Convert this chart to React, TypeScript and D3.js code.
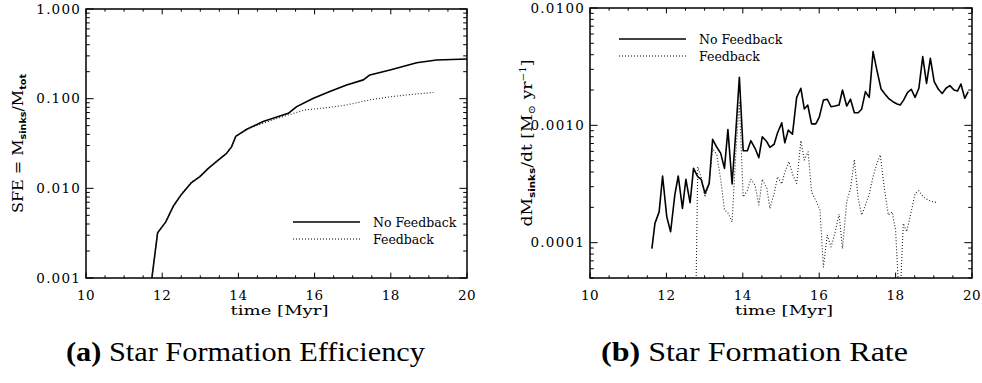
import React from 'react';
import * as d3 from 'd3';

// ---------- Data ----------
const sfeTimeNoFb = [11.70, 11.88, 12.09, 12.29, 12.50, 12.77, 12.99, 13.21, 13.43, 13.69, 13.82, 13.93, 14.22, 14.65, 15.31, 15.53, 15.97, 16.40, 16.84, 17.28, 17.45, 17.98, 18.68, 19.20, 20.00];
const sfeNoFb = [0.0008, 0.0032, 0.0042, 0.0063, 0.0085, 0.0116, 0.0135, 0.0167, 0.020, 0.0246, 0.029, 0.038, 0.0456, 0.0555, 0.0687, 0.0815, 0.101, 0.120, 0.142, 0.162, 0.184, 0.209, 0.251, 0.270, 0.277];
const sfeTimeFb = [11.70, 11.88, 12.09, 12.29, 12.50, 12.77, 12.99, 13.21, 13.43, 13.69, 13.82, 13.93, 14.22, 14.65, 15.31, 15.75, 16.40, 16.84, 17.45, 17.98, 18.68, 19.12];
const sfeFb = [0.0008, 0.0032, 0.0042, 0.0063, 0.0086, 0.0118, 0.0137, 0.0168, 0.020, 0.0246, 0.029, 0.038, 0.0456, 0.0532, 0.066, 0.0748, 0.080, 0.085, 0.097, 0.105, 0.113, 0.117];

const rateTimeNoFb = [11.62, 11.70, 11.81, 11.90, 12.01, 12.11, 12.22, 12.31, 12.42, 12.51, 12.62, 12.71, 12.82, 12.91, 13.01, 13.12, 13.21, 13.32, 13.42, 13.52, 13.61, 13.72, 13.82, 13.91, 14.01, 14.12, 14.21, 14.32, 14.42, 14.51, 14.63, 14.71, 14.82, 14.91, 15.02, 15.10, 15.19, 15.30, 15.41, 15.52, 15.61, 15.70, 15.80, 15.91, 16.00, 16.11, 16.21, 16.31, 16.41, 16.52, 16.61, 16.72, 16.82, 16.92, 17.02, 17.11, 17.21, 17.31, 17.41, 17.51, 17.62, 17.72, 17.83, 17.93, 18.04, 18.12, 18.21, 18.31, 18.41, 18.51, 18.61, 18.71, 18.81, 18.91, 19.01, 19.12, 19.22, 19.32, 19.42, 19.53, 19.62, 19.71, 19.81, 19.90];
const rateNoFb = [8.9e-5, 1.46e-4, 1.83e-4, 3.7e-4, 1.66e-4, 1.24e-4, 2.55e-4, 3.7e-4, 1.96e-4, 3.47e-4, 2.19e-4, 4.3e-4, 3.65e-4, 3.47e-4, 2.63e-4, 3.2e-4, 7.6e-4, 6.5e-4, 5.8e-4, 4.3e-4, 9.2e-4, 3.16e-4, 9.1e-4, 2.57e-3, 6.07e-4, 6.07e-4, 7.4e-4, 6.37e-4, 5.3e-4, 8.0e-4, 7.24e-4, 6.5e-4, 6.9e-4, 8.65e-4, 1.05e-3, 7.1e-4, 9.1e-4, 8.4e-4, 1.73e-3, 2.07e-3, 1.38e-3, 1.49e-3, 1.03e-3, 1.03e-3, 1.17e-3, 1.64e-3, 1.67e-3, 1.44e-3, 1.46e-3, 1.49e-3, 2.0e-3, 1.46e-3, 1.67e-3, 1.28e-3, 1.28e-3, 1.37e-3, 1.94e-3, 1.73e-3, 4.25e-3, 2.96e-3, 2.04e-3, 1.85e-3, 1.68e-3, 1.59e-3, 1.52e-3, 1.49e-3, 1.64e-3, 1.9e-3, 2.03e-3, 1.73e-3, 2.07e-3, 3.85e-3, 2.28e-3, 3.73e-3, 2.36e-3, 2.03e-3, 1.87e-3, 2.07e-3, 2.18e-3, 2.0e-3, 1.96e-3, 2.25e-3, 1.7e-3, 1.94e-3];
const rateTimeFb = [12.75, 12.82, 12.91, 13.01, 13.12, 13.21, 13.32, 13.42, 13.52, 13.61, 13.72, 13.82, 13.91, 14.01, 14.12, 14.21, 14.32, 14.42, 14.51, 14.63, 14.71, 14.82, 14.91, 15.02, 15.10, 15.21, 15.31, 15.41, 15.52, 15.61, 15.71, 15.80, 15.91, 16.02, 16.11, 16.21, 16.31, 16.41, 16.52, 16.61, 16.72, 16.82, 16.92, 17.02, 17.11, 17.21, 17.31, 17.41, 17.51, 17.60, 17.70, 17.81, 17.91, 18.00, 18.07, 18.13, 18.20, 18.29, 18.38, 18.51, 18.61, 18.73, 18.86, 18.99, 19.10];
const rateFb = [1e-5, 4.43e-4, 3.6e-4, 2.45e-4, 3.2e-4, 6.4e-4, 5.6e-4, 3.5e-4, 1.9e-4, 1.8e-4, 1.5e-4, 6.0e-4, 1.6e-3, 2.45e-4, 2.8e-4, 3.47e-4, 3.1e-4, 2.1e-4, 3.47e-4, 2.9e-4, 1.96e-4, 2.63e-4, 3.65e-4, 3.16e-4, 4.0e-4, 4.9e-4, 3.77e-4, 3.2e-4, 7.4e-4, 5.06e-4, 5.96e-4, 2.7e-4, 2.3e-4, 1.9e-4, 6.2e-5, 1.16e-4, 9.2e-5, 1.2e-4, 1.75e-4, 8.9e-5, 2.23e-4, 2.9e-4, 5.1e-4, 2.39e-4, 1.72e-4, 2.09e-4, 2.6e-4, 3.65e-4, 4.74e-4, 5.6e-4, 3.0e-4, 1.72e-4, 1.83e-4, 1.28e-4, 4.5e-5, 4.0e-5, 1.46e-4, 1.24e-4, 1.66e-4, 2.63e-4, 2.77e-4, 2.45e-4, 2.3e-4, 2.23e-4, 2.19e-4];

const xTickValues = [10, 12, 14, 16, 18, 20];
const sfeTickValues = [0.001, 0.01, 0.1, 1];
const sfeTickLabels = ['0.001', '0.010', '0.100', '1.000'];
const rateTickValues = [0.0001, 0.001, 0.01];
const rateTickLabels = ['0.0001', '0.0010', '0.0100'];
const legendLabels = ['No Feedback', 'Feedback'];
const captions = ['Star Formation Efficiency', 'Star Formation Rate'];

const FONT = '"DejaVu Serif", serif';
const SUBFONT = '"DejaVu Sans", sans-serif';
const CAPFONT = '"Liberation Serif", serif';

type Series = { t: number[]; v: number[]; dotted: boolean };

function minorLog(lo: number, hi: number) {
  const out: { v: number; major: boolean }[] = [];
  for (let e = Math.floor(Math.log10(lo)) - 1; e <= Math.ceil(Math.log10(hi)); e++) {
    for (let m = 1; m < 10; m++) {
      const v = m * Math.pow(10, e);
      if (v >= lo * 0.9999 && v <= hi * 1.0001) out.push({ v, major: m === 1 });
    }
  }
  return out;
}

function Panel(props: {
  id: string; x0: number; x1: number; y0: number; y1: number;
  yDomain: [number, number]; yTicks: number[]; yLabels: string[];
  series: Series[]; legendX: number; legendY: number; legendGap: number;
  yLabel: React.ReactNode; yLabelX: number; yLabelLen: number;
}) {
  const { id, x0, x1, y0, y1, yDomain, series } = props;
  const xs = d3.scaleLinear().domain([10, 20]).range([x0, x1]);
  const ys = d3.scaleLog().domain(yDomain).range([y1, y0]);
  const mk = (s: Series) =>
    d3.line<number>().x((d, i) => xs(s.t[i])).y((d) => ys(d))(s.v) || '';
  const xMinor = d3.range(10, 20.001, 0.5);
  const yMinor = minorLog(yDomain[0], yDomain[1]);
  const xMajLen = 5.4, xMinLen = 2.7, yMajLen = 7.6, yMinLen = 3.8;
  const cy = (y0 + y1) / 2;
  return (
    <g>
      <defs>
        <clipPath id={id}>
          <rect x={x0} y={y0} width={x1 - x0} height={y1 - y0} />
        </clipPath>
      </defs>
      <g clipPath={`url(#${id})`}>
        {series.map((s, i) => (
          <path key={i} d={mk(s)} fill="none" stroke={s.dotted ? '#222' : '#000'}
            strokeWidth={s.dotted ? 1.1 : 1.6} strokeDasharray={s.dotted ? '1 2' : undefined}
            strokeLinejoin="round" />
        ))}
      </g>
      {xMinor.map((v, i) => {
        const major = Math.abs(v - Math.round(v / 2) * 2) < 1e-6;
        const L = major ? xMajLen : xMinLen;
        return (
          <g key={'x' + i}>
            <line x1={xs(v)} x2={xs(v)} y1={y1} y2={y1 - L} stroke="#000" strokeWidth={1} />
            <line x1={xs(v)} x2={xs(v)} y1={y0} y2={y0 + L} stroke="#000" strokeWidth={1} />
          </g>
        );
      })}
      {yMinor.map((t, i) => {
        const L = t.major ? yMajLen : yMinLen;
        return (
          <g key={'y' + i}>
            <line x1={x0} x2={x0 + L} y1={ys(t.v)} y2={ys(t.v)} stroke="#000" strokeWidth={1} />
            <line x1={x1} x2={x1 - L} y1={ys(t.v)} y2={ys(t.v)} stroke="#000" strokeWidth={1} />
          </g>
        );
      })}
      <rect x={x0} y={y0} width={x1 - x0} height={y1 - y0} fill="none" stroke="#000" strokeWidth={1.5} />
      {xTickValues.map((v) => (
        <text key={'xl' + v} x={xs(v)} y={y1 + 22} textAnchor="middle" fontFamily={FONT} fontSize={13.5} letterSpacing={0.5}>{v}</text>
      ))}
      {props.yTicks.map((v, i) => (
        <text key={'yl' + i} x={x0 - 5} y={ys(v) + 4.8} textAnchor="end" fontFamily={FONT} fontSize={13.5} letterSpacing={1.2}>{props.yLabels[i]}</text>
      ))}
      <text x={(x0 + x1) / 2 + 3} y={y1 + 37} textAnchor="middle" fontFamily={FONT} fontSize={13.5} textLength={98} lengthAdjust="spacingAndGlyphs">time [Myr]</text>
      <text transform={`translate(${props.yLabelX},${cy}) rotate(-90)`} textAnchor="middle" fontFamily={FONT} fontSize={15}
        textLength={props.yLabelLen} lengthAdjust="spacingAndGlyphs">
        {props.yLabel}
      </text>
      {legendLabels.map((lab, i) => {
        const ly = props.legendY + i * props.legendGap;
        return (
          <g key={'lg' + i}>
            <line x1={props.legendX} x2={props.legendX + 67} y1={ly} y2={ly} stroke="#000"
              strokeWidth={i === 0 ? 1.6 : 1.1} strokeDasharray={i === 1 ? '1 2' : undefined} />
            <text x={props.legendX + 80} y={ly + 4.5} fontFamily={FONT} fontSize={12.5}>{lab}</text>
          </g>
        );
      })}
    </g>
  );
}

export default function App() {
  return (
    <svg width={982} height={383} style={{ position: 'absolute', left: 0, top: 0, background: '#fff' }}>
      <rect width={982} height={383} fill="#fff" />
      <Panel id="cA" x0={86} x1={467} y0={9} y1={278} yDomain={[0.001, 1]}
        yTicks={sfeTickValues} yLabels={sfeTickLabels}
        series={[{ t: sfeTimeNoFb, v: sfeNoFb, dotted: false }, { t: sfeTimeFb, v: sfeFb, dotted: true }]}
        legendX={293} legendY={222} legendGap={17} yLabelX={23} yLabelLen={139}
        yLabel={<>SFE = M<tspan fontFamily={SUBFONT} fontWeight="bold" fontSize={9} dy={3}>sinks</tspan><tspan dy={-3}>/M</tspan><tspan fontFamily={SUBFONT} fontWeight="bold" fontSize={9} dy={3}>tot</tspan></>}
      />
      <Panel id="cB" x0={590} x1={972} y0={8} y1={278} yDomain={[5e-5, 0.01]}
        yTicks={rateTickValues} yLabels={rateTickLabels}
        series={[{ t: rateTimeNoFb, v: rateNoFb, dotted: false }, { t: rateTimeFb, v: rateFb, dotted: true }]}
        legendX={619} legendY={39} legendGap={17} yLabelX={532} yLabelLen={167}
        yLabel={<>dM<tspan fontFamily={SUBFONT} fontWeight="bold" fontSize={9} dy={3}>sinks</tspan><tspan dy={-3}>/dt [M</tspan><tspan fontSize={10} dy={3}>⊙</tspan><tspan dy={-3}> yr</tspan><tspan fontSize={9} dy={-6}>−1</tspan><tspan dy={6}>]</tspan></>}
      />
      <text x={66} y={361} fontFamily={CAPFONT} fontSize={27} textLength={359} lengthAdjust="spacingAndGlyphs">
        <tspan fontWeight="bold">(a)</tspan> {captions[0]}
      </text>
      <text x={601} y={361} fontFamily={CAPFONT} fontSize={27} textLength={307} lengthAdjust="spacingAndGlyphs">
        <tspan fontWeight="bold">(b)</tspan> {captions[1]}
      </text>
    </svg>
  );
}
